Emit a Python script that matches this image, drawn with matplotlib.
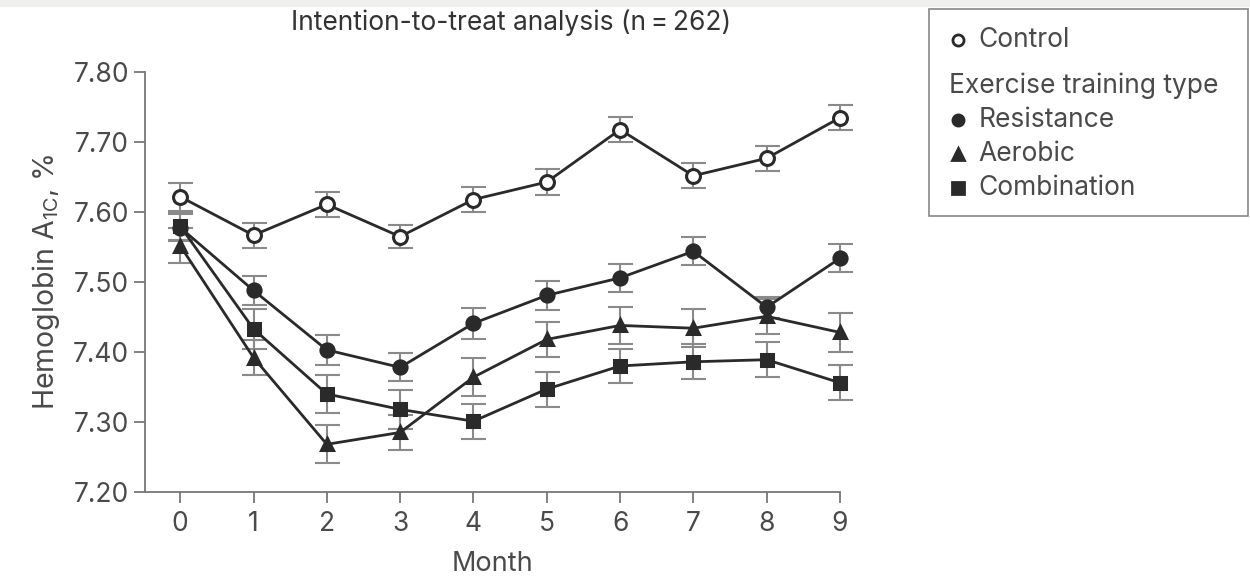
import numpy as np
import matplotlib.pyplot as plt
from matplotlib.lines import Line2D
from matplotlib.patches import Rectangle

plt.rcParams['font.family'] = ['Inter', 'DejaVu Sans']

# Données
months = [0, 1, 2, 3, 4, 5, 6, 7, 8, 9]
control = [7.622, 7.567, 7.611, 7.565, 7.618, 7.643, 7.718, 7.652, 7.677, 7.735]
resistance = [7.578, 7.488, 7.403, 7.378, 7.441, 7.481, 7.506, 7.544, 7.464, 7.534]
aerobic = [7.552, 7.392, 7.268, 7.285, 7.364, 7.418, 7.438, 7.434, 7.451, 7.428]
combination = [7.580, 7.433, 7.340, 7.318, 7.301, 7.347, 7.380, 7.386, 7.389, 7.356]

control_se = [0.020, 0.018, 0.018, 0.017, 0.018, 0.018, 0.018, 0.018, 0.018, 0.018]
resistance_se = [0.020, 0.021, 0.022, 0.020, 0.022, 0.021, 0.020, 0.020, 0.015, 0.020]
aerobic_se = [0.025, 0.025, 0.027, 0.025, 0.027, 0.025, 0.027, 0.027, 0.025, 0.028]
combination_se = [0.020, 0.028, 0.027, 0.028, 0.025, 0.025, 0.025, 0.025, 0.025, 0.025]

yticks = [7.20, 7.30, 7.40, 7.50, 7.60, 7.70, 7.80]

TXT = '#4a4a4a'
LINE = '#2a2a2a'
ERR = '#8a8a8a'

fig = plt.figure(figsize=(12.5, 5.78), dpi=100)
ax = fig.add_axes([0.116, 0.149, 0.556, 0.726])

series = [
    (combination, combination_se, 's', LINE, 9),
    (aerobic, aerobic_se, '^', LINE, 9),
    (resistance, resistance_se, 'o', LINE, 9.5),
    (control, control_se, 'o', 'white', 10),
]
for vals, se, mk, face, ms in series:
    ax.errorbar(months, vals, yerr=se, fmt='none', ecolor=ERR, elinewidth=1.5,
                capsize=9, capthick=1.5, zorder=2, clip_on=False)
    ax.plot(months, vals, color=LINE, lw=2, marker=mk, ms=ms, clip_on=False,
            markerfacecolor=face, markeredgecolor=LINE, markeredgewidth=2.2, zorder=3)

ax.set_xlim(-0.48, 9)
ax.set_ylim(7.20, 7.80)
ax.set_xticks(months)
ax.set_yticks(yticks)
ax.set_yticklabels([f'{v:.2f}' for v in yticks])
for s in ['top', 'right']:
    ax.spines[s].set_visible(False)
for s in ['left', 'bottom']:
    ax.spines[s].set_color('#777777')
    ax.spines[s].set_linewidth(1.3)
ax.tick_params(axis='both', colors='#777777', labelcolor=TXT, labelsize=19,
               length=8, width=1.3, direction='out')
ax.tick_params(axis='x', pad=6)

ax.set_xlabel('Month', fontsize=19.5, color=TXT, labelpad=10)
ax.set_ylabel('Hemoglobin A$_{\\mathregular{1C}}$, %', fontsize=20.5, color=TXT, labelpad=8)
fig.text(0.409, 0.960, 'Intention-to-treat analysis (n\u2009=\u2009262)', fontsize=19,
         color='#333333', ha='center', va='center')

# bande grise en haut
fig.patches.append(Rectangle((0, 0.988), 1, 0.012, transform=fig.transFigure,
                             facecolor='#efefed', edgecolor='none', zorder=0))

# Légende dessinée à la main
fig.patches.append(Rectangle((0.743, 0.627), 0.255, 0.358, transform=fig.transFigure,
                             facecolor='white', edgecolor='#888888', lw=1.2))
entries = [
    (0.931, 'o', 'white', 'Control'),
    (0.851, None, None, 'Exercise training type'),
    (0.792, 'o', LINE, 'Resistance'),
    (0.734, '^', LINE, 'Aerobic'),
    (0.675, 's', LINE, 'Combination'),
]
for y, mk, face, lab in entries:
    if mk is None:
        fig.text(0.759, y, lab, fontsize=19, color=TXT, va='center', ha='left')
    else:
        fig.add_artist(Line2D([0.766], [y], transform=fig.transFigure, marker=mk, ms=8,
                              markerfacecolor=face, markeredgecolor=LINE,
                              markeredgewidth=2, linestyle='none'))
        fig.text(0.783, y, lab, fontsize=19, color=TXT, va='center', ha='left')

fig.savefig('out.png', dpi=100)
